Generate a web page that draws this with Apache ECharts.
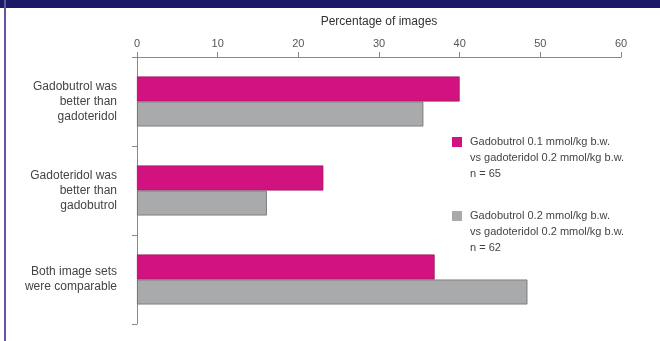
<!DOCTYPE html>
<html>
<head>
<meta charset="utf-8">
<script src="https://cdn.jsdelivr.net/npm/echarts@6/dist/echarts.min.js"></script>
<style>
html, body { margin: 0; padding: 0; background: #fff; }
#main { width: 660px; height: 341px; }
</style>
</head>
<body>
<div id="main"></div>
<script>
var categories = ['Gadobutrol was\nbetter than\ngadoteridol', 'Gadoteridol was\nbetter than\ngadobutrol', 'Both image sets\nwere comparable'];
var dose01Values = [40.0, 23.1, 36.9];
var dose02Values = [35.5, 16.1, 48.4];
var xTicks = [0, 10, 20, 30, 40, 50, 60];
var seriesNames = ['Gadobutrol 0.1', 'Gadobutrol 0.2'];
var legendTexts = [
    'Gadobutrol 0.1 mmol/kg b.w.\nvs gadoteridol 0.2 mmol/kg b.w.\nn = 65',
    'Gadobutrol 0.2 mmol/kg b.w.\nvs gadoteridol 0.2 mmol/kg b.w.\nn = 62'
];

var myChart = echarts.init(document.getElementById('main'));
var font = 'Liberation Sans, Arial, sans-serif';

// square on top of a tall icon box so it lines up with the first text line
var topSquare = 'path://M0,0H10V10H0Z M0,42H0.01';

function legendFor(i, top) {
    return {
        data: [{ name: seriesNames[i], icon: topSquare }],
        left: 452,
        top: top,
        padding: 0,
        itemWidth: 10,
        itemHeight: 42,
        itemGap: 8,
        selectedMode: false,
        itemStyle: { borderWidth: 0 },
        formatter: function () { return legendTexts[i]; },
        textStyle: {
            fontFamily: font,
            fontSize: 11,
            color: '#444',
            lineHeight: 16,
            padding: [0, 0, 0, 3]
        }
    };
}

option = {
    animation: false,
    backgroundColor: '#fff',
    graphic: [
        { type: 'rect', shape: { x: 0, y: 0, width: 660, height: 8 }, style: { fill: '#1c1a66' } },
        { type: 'rect', shape: { x: 4, y: 0, width: 2, height: 341 }, style: { fill: '#5b57a3' } }
    ],
    legend: [legendFor(0, 134), legendFor(1, 208)],
    grid: {
        left: 137,
        right: 39,
        top: 57,
        bottom: 17
    },
    xAxis: {
        type: 'value',
        position: 'top',
        min: xTicks[0],
        max: xTicks[xTicks.length - 1],
        interval: 10,
        name: 'Percentage of images',
        nameLocation: 'middle',
        nameGap: 29,
        nameTextStyle: { fontFamily: font, fontSize: 12, color: '#333' },
        axisLine: { show: true, lineStyle: { color: '#888' } },
        axisTick: { show: true, length: 5, lineStyle: { color: '#888' } },
        axisLabel: { fontFamily: font, fontSize: 11, color: '#555', margin: 8 },
        splitLine: { show: false }
    },
    yAxis: {
        type: 'category',
        inverse: true,
        data: categories,
        axisLine: { show: true, lineStyle: { color: '#888' } },
        axisTick: { show: true, length: 5, lineStyle: { color: '#888' } },
        axisLabel: {
            fontFamily: font,
            fontSize: 12,
            color: '#444',
            lineHeight: 15,
            align: 'right',
            margin: 20
        }
    },
    series: [
        {
            name: seriesNames[0],
            type: 'bar',
            data: dose01Values,
            barWidth: 25,
            barGap: '0%',
            itemStyle: { color: '#d2127f', borderColor: '#8e1a60', borderWidth: 0.6 }
        },
        {
            name: seriesNames[1],
            type: 'bar',
            data: dose02Values,
            barWidth: 25,
            itemStyle: { color: '#a8aaac', borderColor: '#6d6d6d', borderWidth: 0.8 }
        }
    ]
};

myChart.setOption(option);
</script>
</body>
</html>
